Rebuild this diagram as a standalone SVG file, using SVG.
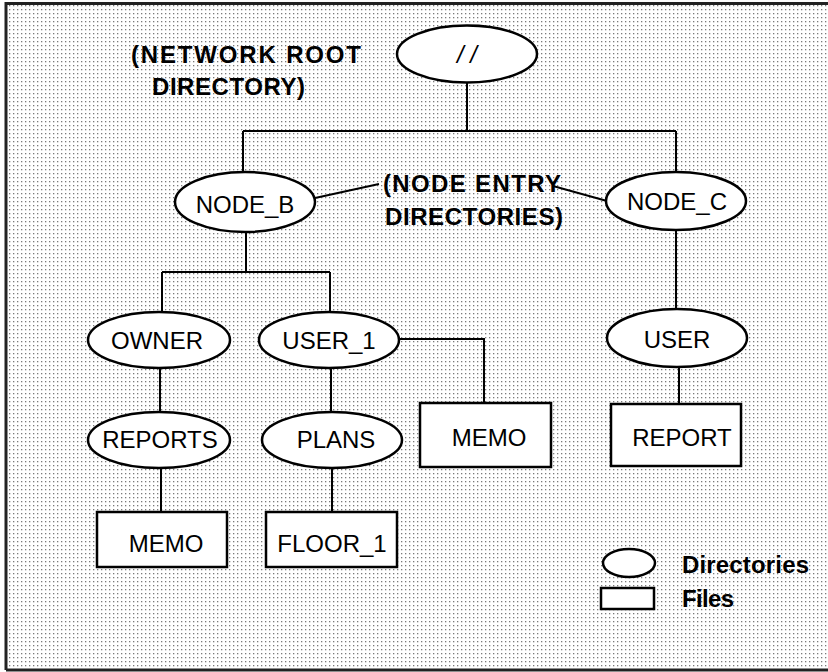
<svg xmlns="http://www.w3.org/2000/svg" width="828" height="672" viewBox="0 0 828 672">
<defs>
<pattern id="dots" x="0" y="0" width="4" height="4" patternUnits="userSpaceOnUse">
<rect x="1" y="1" width="1.3" height="1.3" fill="#7a7a7a"/>
</pattern>
</defs>
<style>
.dir{fill:#fff;stroke:#000;stroke-width:2.5}
.file{fill:#fff;stroke:#000;stroke-width:2.5}
.t{font-family:"Liberation Sans",Arial,sans-serif;font-size:24px;fill:#000;text-anchor:middle}
.b{font-family:"Liberation Sans",Arial,sans-serif;font-weight:bold;font-size:24px;fill:#000}
.ln{fill:none;stroke:#000;stroke-width:2}
</style>
<rect x="0" y="0" width="828" height="672" fill="#fff"/>
<rect x="6" y="4" width="824" height="666" fill="url(#dots)"/>
<path d="M6 670 V3.5 H828 M6 670 H828" fill="none" stroke="#222" stroke-width="3"/>

<g id="connectors">
<path class="ln" d="M467 82 V131 M243 131 H676 M243 131 V172 M676 131 V172"/>
<path class="ln" d="M246 232 V272 M162 272 H330 M162 272 V312 M330 272 V312"/>
<path class="ln" d="M676 230 V309"/>
<path class="ln" d="M160 368 V412 M331 368 V412"/>
<path class="ln" d="M399 339 H484 V403"/>
<path class="ln" d="M679 367 V404"/>
<path class="ln" d="M161 468 V512 M332 468 V512"/>
<path class="ln" d="M315 198 L379 184 M553 186 L607 201"/>
</g>

<g id="label-root"><text class="b" x="131" y="63" textLength="230" lengthAdjust="spacing">(NETWORK ROOT</text>
<text class="b" x="152" y="95" textLength="153" lengthAdjust="spacing">DIRECTORY)</text></g>
<g id="label-entry"><text class="b" x="383" y="192" textLength="178" lengthAdjust="spacing">(NODE ENTRY</text>
<text class="b" x="385" y="225" textLength="178" lengthAdjust="spacing">DIRECTORIES)</text></g>

<g id="root"><ellipse class="dir" cx="467" cy="54" rx="70" ry="28.5"/><text class="t" x="467" y="63" font-style="italic">/ /</text></g>
<g id="node_b"><ellipse class="dir" cx="245" cy="202" rx="70" ry="30"/><text class="t" x="245" y="213">NODE_B</text></g>
<g id="node_c"><ellipse class="dir" cx="676" cy="201" rx="70" ry="29"/><text class="t" x="677" y="210">NODE_C</text></g>
<g id="owner"><ellipse class="dir" cx="159" cy="340" rx="71" ry="28"/><text class="t" x="157" y="349">OWNER</text></g>
<g id="user_1"><ellipse class="dir" cx="329" cy="340" rx="70" ry="28"/><text class="t" x="329" y="349">USER_1</text></g>
<g id="user"><ellipse class="dir" cx="677" cy="338" rx="70" ry="29"/><text class="t" x="677" y="348">USER</text></g>
<g id="reports"><ellipse class="dir" cx="159" cy="440" rx="71" ry="28"/><text class="t" x="160" y="448">REPORTS</text></g>
<g id="plans"><ellipse class="dir" cx="332" cy="440" rx="70" ry="28"/><text class="t" x="336" y="448">PLANS</text></g>
<g id="memo_user1"><rect class="file" x="420" y="403" width="131" height="64"/><text class="t" x="489" y="446">MEMO</text></g>
<g id="report"><rect class="file" x="611" y="404" width="130" height="62"/><text class="t" x="682" y="446">REPORT</text></g>
<g id="memo_reports"><rect class="file" x="97" y="512" width="130" height="55"/><text class="t" x="166" y="552">MEMO</text></g>
<g id="floor_1"><rect class="file" x="266" y="512" width="131" height="55"/><text class="t" x="332" y="552">FLOOR_1</text></g>

<g id="legend">
<ellipse class="dir" cx="629" cy="563" rx="26" ry="14" stroke-width="2"/>
<rect class="file" x="601" y="588" width="53" height="21" stroke-width="2"/>
<text class="b" x="682" y="573" font-size="22" textLength="127" lengthAdjust="spacing">Directories</text>
<text class="b" x="682" y="607" font-size="22" textLength="52" lengthAdjust="spacing">Files</text>
</g>
</svg>
